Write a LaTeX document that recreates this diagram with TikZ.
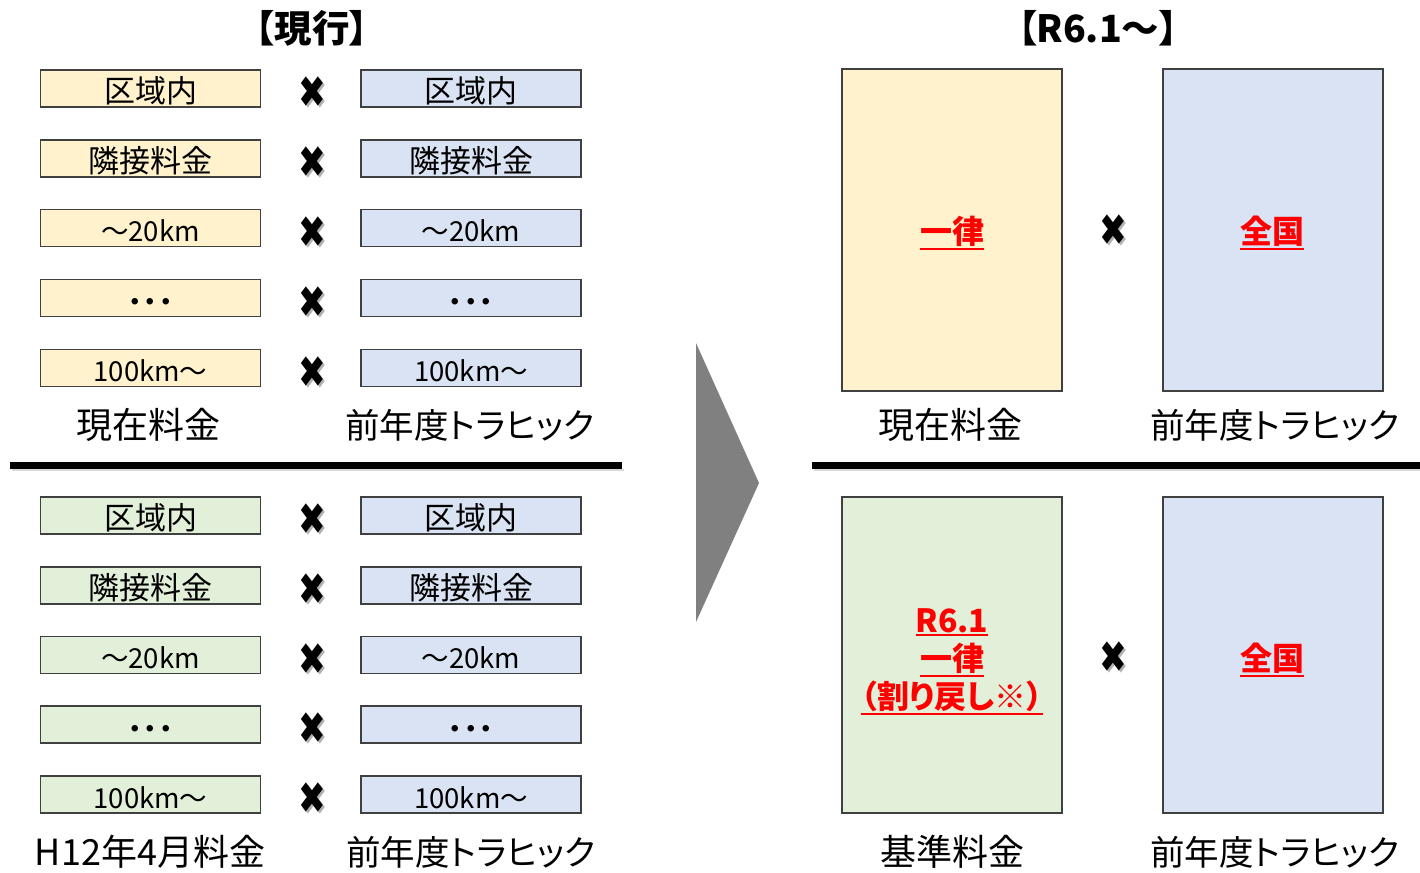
\documentclass[tikz,border=0pt]{standalone}
\usepackage{fontspec}
\setmainfont{Noto Sans CJK JP}[RawFeature=+palt]
\newfontfamily\symfont{DejaVu Sans}
\definecolor{yelc}{HTML}{FFF2CC}
\definecolor{bluc}{HTML}{DAE3F3}
\definecolor{grnc}{HTML}{E2F0D9}
\definecolor{edgec}{HTML}{404040}
\definecolor{redc}{HTML}{FF0000}
\definecolor{arrc}{HTML}{808080}
\newcommand\myul[1]{\leavevmode\setbox0=\hbox{#1}\vtop{\copy0\kern1.5pt\hrule height 2pt width \wd0}}
\newcommand\timesglyph{\scalebox{0.75}[1]{✖}}
\newcommand\kmtxt[1]{{\fontsize{27.5}{30}\selectfont #1}}
\newcommand\dottxt{\raisebox{-2pt}{\bfseries ･･･}}
\tikzset{
  cell/.style={draw=edgec, line width=1.2pt, minimum width=220pt, minimum height=37pt, inner sep=0pt, text height=27.6pt, text depth=0pt, font=\fontsize{31}{33}\selectfont},
  yelcell/.style={cell, fill=yelc},
  blucell/.style={cell, fill=bluc},
  grncell/.style={cell, fill=grnc},
  bigcell/.style={draw=edgec, line width=1.4pt, minimum width=220pt, inner sep=0pt},
  lbl/.style={font=\fontsize{36}{40}\selectfont, inner sep=0pt},
  lblk/.style={font=\fontsize{34.5}{40}\selectfont, inner sep=0pt},
  ttl/.style={font=\fontsize{37.5}{40}\selectfont\bfseries, inner sep=0pt},
  redtxt/.style={font=\fontsize{32}{38}\selectfont\bfseries, text=redc, align=center, inner sep=0pt},
  timesym/.style={font=\symfont\fontsize{44}{46}\selectfont, inner sep=0pt},
  timeshadow/.style={timesym, text=black!30},
}
\begin{document}
\begin{tikzpicture}[x=1pt,y=-1pt]
\useasboundingbox (0,0) rectangle (1420,872);
% titles
\node[ttl] (t1) at (312,28) {【現行】};
\node[ttl] (t2) at (1098,28) {【R6.1～】};
% upper left rows
\foreach \i/\yy/\txt in {1/88.5/区域内, 2/158.5/隣接料金, 3/228/\kmtxt{～20km}, 4/298/\dottxt, 5/368/\kmtxt{100km～}}{
  \node[yelcell] (ya\i) at (150.5,\yy) {\txt};
  \node[blucell] (ba\i) at (471,\yy) {\txt};
  \node[timeshadow] (sa\i) at (314,\yy+6) {\timesglyph};
  \node[timesym] (xa\i) at (312,\yy+4) {\timesglyph};
}
% lower left rows
\foreach \i/\yy/\txt in {1/515.5/区域内, 2/585.5/隣接料金, 3/655/\kmtxt{～20km}, 4/724.5/\dottxt, 5/794.5/\kmtxt{100km～}}{
  \node[grncell] (gb\i) at (150.5,\yy) {\txt};
  \node[blucell] (bb\i) at (471,\yy) {\txt};
  \node[timeshadow] (sb\i) at (314,\yy+6) {\timesglyph};
  \node[timesym] (xb\i) at (312,\yy+4) {\timesglyph};
}
% left labels
\node[lbl] (l1) at (148,425) {現在料金};
\node[lblk] (l2) at (470,425) {前年度トラヒック};
\node[lbl] (l3) at (150,852) {H12年4月料金};
\node[lblk] (l4) at (471,852) {前年度トラヒック};
% separators
\fill[black!15] (12,469) rectangle (624,471);
\fill[black!15] (814,469) rectangle (1420,471);
\draw[line width=7pt] (10,465) -- (622,465);
\draw[line width=7pt] (812,465) -- (1420,465);
% arrow
\fill[arrc] (696,343) -- (759,483) -- (696,622) -- cycle;
% right upper
\node[bigcell, fill=yelc, minimum height=322pt] (ry) at (952,230) {};
\node[bigcell, fill=bluc, minimum height=322pt] (rb1) at (1273,230) {};
\node[redtxt] (r1) at (952,233) {\myul{一律}};
\node[redtxt] (r2) at (1272,233) {\myul{全国}};
\node[timeshadow] (sr1) at (1115,232) {\timesglyph};
\node[timesym] (xr1) at (1113,230) {\timesglyph};
\node[lbl] (l5) at (950,425) {現在料金};
\node[lblk] (l6) at (1275,425) {前年度トラヒック};
% right lower
\node[bigcell, fill=grnc, minimum height=316pt] (rg) at (952,655) {};
\node[bigcell, fill=bluc, minimum height=316pt] (rb2) at (1273,655) {};
\node[redtxt] (r3) at (952,662) {\myul{R6.1}\\\myul{一律}\\\myul{（割り戻し※）}};
\node[redtxt] (r4) at (1272,660) {\myul{全国}};
\node[timeshadow] (sr2) at (1115,659) {\timesglyph};
\node[timesym] (xr2) at (1113,657) {\timesglyph};
\node[lbl] (l7) at (952,852) {基準料金};
\node[lblk] (l8) at (1275,852) {前年度トラヒック};
\end{tikzpicture}
\end{document}
